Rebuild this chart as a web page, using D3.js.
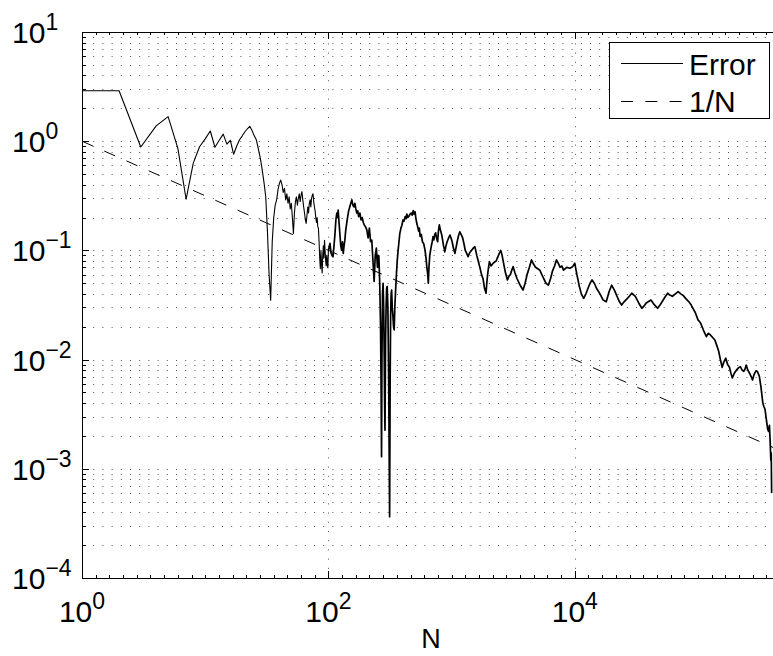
<!DOCTYPE html>
<html><head><meta charset="utf-8">
<script src="https://cdn.jsdelivr.net/npm/d3@7/dist/d3.min.js"></script>
<style>
body{margin:0;background:#fff}
svg{display:block}
text{font-family:"Liberation Sans",Arial,Helvetica,sans-serif;fill:#000}
</style>
</head><body>
<svg id="c" width="773" height="656"></svg>
<script>
// ---- data ----
const headN = d3.range(1, 101); // N = 1..100
const headVal = [
  2.9,2.9,0.885,1.38,1.68,0.86,0.294,0.63,0.89,1.05,
  1.24,0.88,1.02,1.16,0.94,1.02,0.76,0.9,1.03,1.12,
  1.22,1.3,1.37,1.25,1.12,1.03,0.85,0.7,0.55,0.42,
  0.31,0.15,0.06,0.035,0.12,0.2,0.26,0.29,0.36,0.41,
  0.44,0.40,0.34,0.37,0.29,0.33,0.27,0.31,0.24,0.27,
  0.2,0.143,0.22,0.28,0.31,0.26,0.3,0.33,0.28,0.32,
  0.345,0.29,0.25,0.22,0.19,0.177,0.21,0.25,0.22,0.27,
  0.29,0.25,0.3,0.32,0.33,0.28,0.25,0.23,0.2,0.18,
  0.2,0.165,0.159,0.12,0.085,0.068,0.1,0.075,0.062,0.09,
  0.11,0.085,0.124,0.1,0.08,0.072,0.09,0.075,0.069,0.1
];
const tailN = [
  103,105,107,109,111,113,115,117,119,120,
  122,124,126,128,130,132,134,136,138,141,
  143,146,149,152,155,158,161,164,167,170,
  173,176,180,184,188,192,196,200,205,210,
  215,220,225,230,235,240,245,250,254,257,
  261,265,268,270,272,275,278,281,284,286,
  288,291,294,297,300,304,308,312,314,317,
  320,323,326,330,334,338,342,346,350,357,
  362,368,374,380,388,395,403,410,420,427,
  433,441,450,460,470,479,488,496,505,512,
  520,530,540,547,555,567,580,594,609,620,
  630,640,647,655,665,675,685,696,707,718,
  730,742,755,770,782,795,810,830,845,860,
  870,880,900,920,945,970,990,1010,1035,1064,
  1085,1110,1135,1166,1195,1230,1260,1290,1320,1360,
  1400,1450,1500,1543,1570,1600,1645,1690,1750,1800,
  1850,1904,1930,1960,1995,2028,2090,2150,2220,2300,
  2350,2400,2450,2508,2570,2650,2740,2840,2920,3000,
  3080,3160,3270,3400,3600,3800,3950,4100,4280,4450,
  4620,4800,5000,5200,5400,5600,5850,6100,6350,6600,
  6850,7100,7350,7600,7850,8100,8600,9150,9600,10000,
  10400,10900,11300,11800,12300,12800,13300,13800,14400,15000,
  16000,17000,18000,19000,19900,21000,22000,23000,24000,25200,
  26500,27700,29000,31000,33000,35000,36500,38000,41500,44000,
  47000,49500,52000,54500,56800,59000,62000,65500,69000,72500,
  76000,80000,84000,87500,91000,95000,100000,104000,108000,112000,
  117000,121000,125000,131000,137000,142000,147000,152000,157000,162000,
  168000,174000,180000,185000,190000,197000,205000,213000,221000,228000,
  235000,241000,246000,254000,262000,270000,277000,284000,290000,297000,
  303000,309000,315000,325000,336000,343000,350000,359000,368000,374000,
  380000,385000,390000,393000,396000
];
const tailVal = [
  0.116,0.095,0.09,0.0875,0.11,0.14,0.19,0.22,0.2,0.234,
  0.18,0.14,0.11,0.1,0.12,0.094,0.11,0.124,0.15,0.18,
  0.2,0.23,0.25,0.27,0.29,0.26,0.25,0.27,0.24,0.22,
  0.23,0.204,0.22,0.19,0.2,0.18,0.17,0.165,0.154,0.13,
  0.16,0.12,0.124,0.08,0.052,0.09,0.105,0.07,0.09,0.0875,
  0.05,0.02,0.005,0.00129,0.01,0.04,0.05,0.03,0.01,0.004,
  0.00226,0.015,0.03,0.045,0.0466,0.03,0.008,0.001,0.000364,0.006,
  0.025,0.04,0.0433,0.03,0.025,0.02,0.0187,0.03,0.04,0.062,
  0.08,0.1,0.12,0.143,0.16,0.17,0.19,0.185,0.204,0.195,
  0.215,0.2,0.205,0.215,0.22,0.21,0.231,0.215,0.226,0.2,
  0.18,0.165,0.15,0.16,0.134,0.14,0.12,0.115,0.1,0.085,
  0.07,0.06,0.05,0.07,0.09,0.1,0.11,0.12,0.134,0.125,
  0.14,0.145,0.13,0.12,0.15,0.171,0.155,0.14,0.125,0.11,
  0.105,0.097,0.11,0.12,0.13,0.138,0.13,0.12,0.105,0.094,
  0.105,0.12,0.135,0.148,0.14,0.13,0.115,0.1,0.095,0.0875,
  0.095,0.1,0.105,0.108,0.1,0.09,0.08,0.071,0.06,0.055,
  0.045,0.0405,0.05,0.06,0.07,0.0788,0.072,0.075,0.078,0.08,
  0.085,0.09,0.095,0.1,0.09,0.075,0.062,0.0536,0.058,0.06,
  0.066,0.071,0.062,0.055,0.048,0.0434,0.05,0.06,0.07,0.0817,
  0.075,0.07,0.068,0.066,0.06,0.055,0.05,0.048,0.055,0.065,
  0.072,0.0817,0.076,0.07,0.072,0.066,0.07,0.0686,0.071,0.0762,
  0.06,0.0466,0.04,0.0364,0.04,0.045,0.05,0.0536,0.05,0.045,
  0.04,0.0351,0.0338,0.042,0.048,0.043,0.038,0.034,0.0316,0.034,
  0.036,0.038,0.0405,0.038,0.033,0.0295,0.031,0.033,0.0351,0.032,
  0.0295,0.032,0.035,0.038,0.0405,0.039,0.038,0.04,0.0419,0.04,
  0.0385,0.036,0.034,0.032,0.0295,0.027,0.0231,0.022,0.02,0.018,
  0.0162,0.0174,0.017,0.016,0.0151,0.0135,0.012,0.01,0.0085,0.0095,
  0.0103,0.009,0.0085,0.0075,0.0068,0.0075,0.008,0.0084,0.0086,0.008,
  0.0078,0.0082,0.0089,0.008,0.0075,0.007,0.0065,0.0072,0.0076,0.0079,
  0.0078,0.0074,0.007,0.0055,0.004,0.0037,0.0035,0.0028,0.0023,0.0022,
  0.0025,0.0018,0.0012,0.0014,0.0006
];
const refN = [1, 463000];
const refVal = [1, 0.00147];
const xTickVals = [1, 100, 10000];
const xTickExps = ["0", "2", "4"];
const yTickVals = [1e-4, 1e-3, 1e-2, 1e-1, 1, 10];
const yTickExps = ["\u22124", "\u22123", "\u22122", "\u22121", "0", "1"];
const legendLabels = ["Error", "1/N"];
const xLabelText = "N";

// ---- layout ----
const L = 82, R = 780, T = 32, B = 578;
const x = d3.scaleLog().domain([1, 463000]).range([L, R]);
const y = d3.scaleLog().domain([1e-4, 10]).range([B, T]);
const svg = d3.select("#c");

svg.append("defs").append("clipPath").attr("id", "clip")
  .append("rect").attr("x", L).attr("y", T).attr("width", R - L).attr("height", B - T);

// grid: horizontal (major + minor), vertical (major)
const yGrid = [];
for (let k = -4; k <= 0; k++) for (let m = 1; m <= 9; m++) yGrid.push(m * Math.pow(10, k));
yGrid.push(10);
const grid = svg.append("g").attr("stroke", "#555").attr("stroke-width", 1)
  .attr("stroke-dasharray", "1,8.2").attr("fill", "none");
grid.selectAll("line.h").data(yGrid.filter(v => v < 10 && v > 1e-4)).enter().append("line")
  .attr("x1", L + 2).attr("x2", R).attr("y1", d => Math.round(y(d)) + 0.5).attr("y2", d => Math.round(y(d)) + 0.5);
grid.selectAll("line.v").data(xTickVals.slice(1)).enter().append("line")
  .attr("y1", B).attr("y2", T).attr("x1", d => Math.round(x(d)) + 0.5).attr("x2", d => Math.round(x(d)) + 0.5);

// lines
const line = d3.line().x(d => x(d[0])).y(d => y(d[1]));
const headData = headN.map((n, i) => [n, headVal[i]]);
const tailData = [headData[headData.length - 1]].concat(tailN.map((n, i) => [n, tailVal[i]]));
const refData = refN.map((n, i) => [n, refVal[i]]);
const plot = svg.append("g").attr("clip-path", "url(#clip)");
plot.append("path").datum(headData).attr("d", line)
  .attr("fill", "none").attr("stroke", "#000").attr("stroke-width", 1.1).attr("stroke-linejoin", "round");
plot.append("path").datum(tailData).attr("d", line)
  .attr("fill", "none").attr("stroke", "#000").attr("stroke-width", 1.7).attr("stroke-linejoin", "round");
plot.append("path").datum(refData).attr("d", line)
  .attr("fill", "none").attr("stroke", "#000").attr("stroke-width", 1).attr("stroke-dasharray", "12,12.3");

// axes box
svg.append("rect").attr("x", L + 0.5).attr("y", T + 0.5).attr("width", R - L).attr("height", B - T)
  .attr("fill", "none").attr("stroke", "#000").attr("stroke-width", 1);

// ticks
const tk = svg.append("g").attr("stroke", "#000").attr("stroke-width", 1);
yGrid.forEach(v => {
  const major = yTickVals.includes(v);
  const len = major ? 7 : 4;
  const yy = Math.round(y(v)) + 0.5;
  tk.append("line").attr("x1", L).attr("x2", L + len).attr("y1", yy).attr("y2", yy);
  tk.append("line").attr("x1", R).attr("x2", R - len).attr("y1", yy).attr("y2", yy);
});
const xMinor = d3.range(0, 52).map(i => Math.pow(10, i / 9));
xMinor.forEach(v => {
  const xx = Math.round(x(v)) + 0.5;
  tk.append("line").attr("x1", xx).attr("x2", xx).attr("y1", B).attr("y2", B - 3);
  tk.append("line").attr("x1", xx).attr("x2", xx).attr("y1", T).attr("y2", T + 3);
});
xTickVals.forEach(v => {
  const xx = Math.round(x(v)) + 0.5;
  tk.append("line").attr("x1", xx).attr("x2", xx).attr("y1", B).attr("y2", B - 7);
  tk.append("line").attr("x1", xx).attr("x2", xx).attr("y1", T).attr("y2", T + 7);
});

// tick labels
yTickVals.forEach((v, i) => {
  const t = svg.append("text").attr("x", 12).attr("y", y(v) + 11).attr("font-size", 30).text("10");
  t.append("tspan").attr("dy", -13).attr("font-size", 23).text(yTickExps[i]);
});
xTickVals.forEach((v, i) => {
  const t = svg.append("text").attr("x", x(v)).attr("y", 622).attr("font-size", 30)
    .attr("text-anchor", "middle").text("10");
  t.append("tspan").attr("dy", -13).attr("font-size", 23).text(xTickExps[i]);
});
svg.append("text").attr("x", (L + R) / 2).attr("y", 648).attr("font-size", 27)
  .attr("text-anchor", "middle").text(xLabelText);

// legend
const lg = svg.append("g");
lg.append("rect").attr("x", 609.5).attr("y", 42.5).attr("width", 160).attr("height", 76)
  .attr("fill", "#fff").attr("stroke", "#000").attr("stroke-width", 1);
lg.append("line").attr("x1", 621).attr("x2", 683).attr("y1", 63.5).attr("y2", 63.5)
  .attr("stroke", "#000").attr("stroke-width", 1);
lg.append("line").attr("x1", 621).attr("x2", 683).attr("y1", 101.5).attr("y2", 101.5)
  .attr("stroke", "#000").attr("stroke-width", 1).attr("stroke-dasharray", "12,12.3");
lg.append("text").attr("x", 689).attr("y", 75).attr("font-size", 30).text(legendLabels[0]);
lg.append("text").attr("x", 689).attr("y", 112).attr("font-size", 30).text(legendLabels[1]);
</script>
</body></html>
